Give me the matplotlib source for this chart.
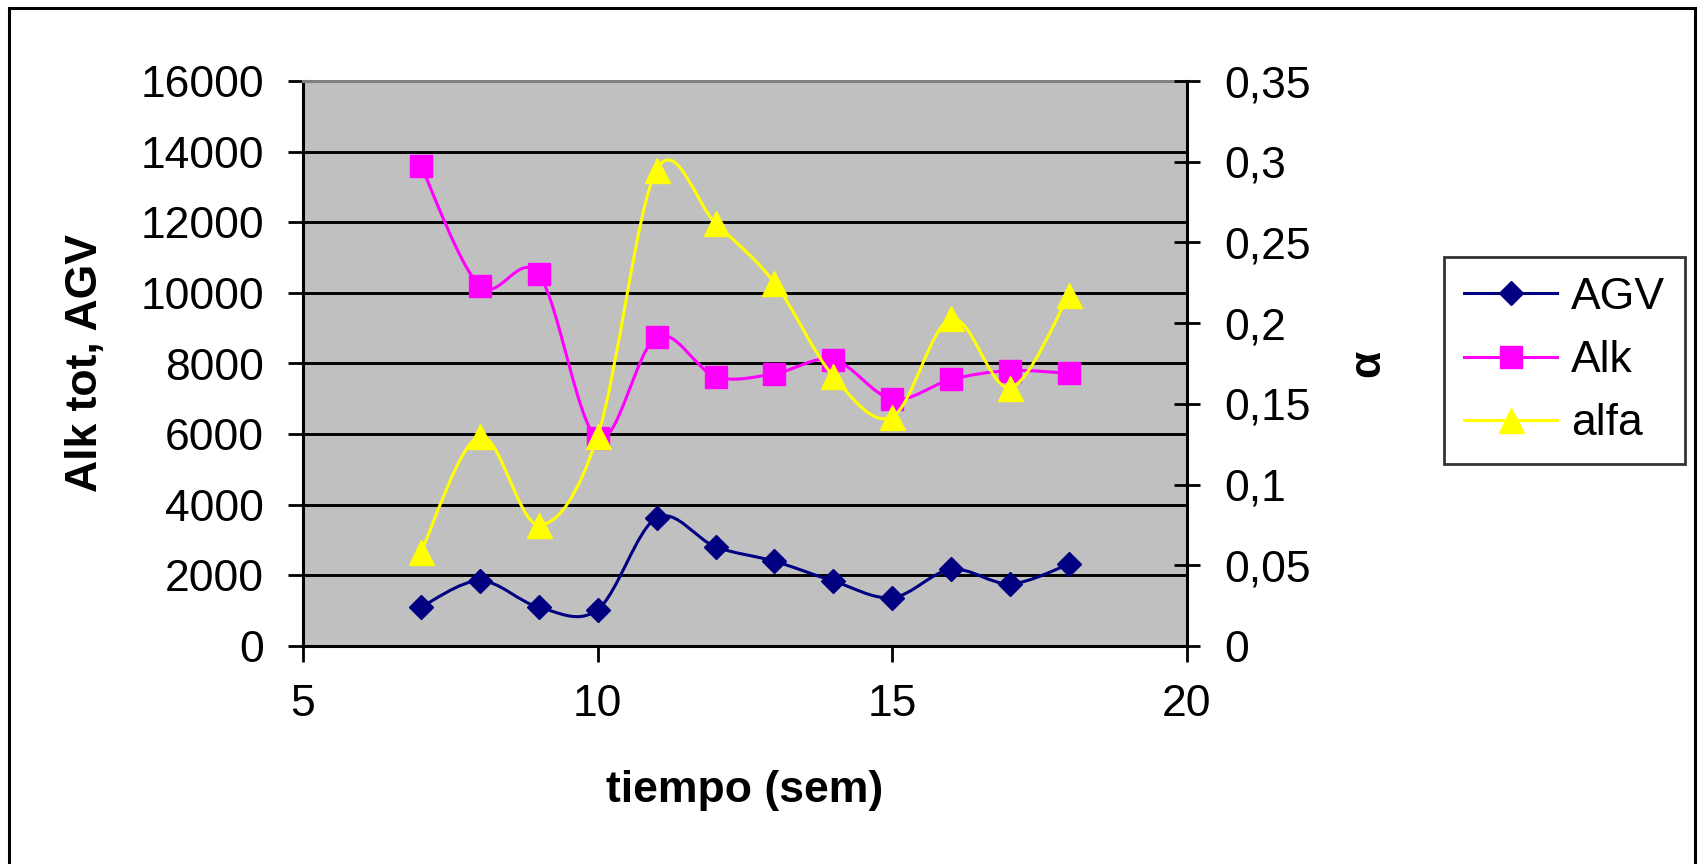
import matplotlib
matplotlib.use("Agg")
import matplotlib.pyplot as plt
import numpy as np
from matplotlib.path import Path
from matplotlib.patches import PathPatch, Rectangle
from matplotlib.lines import Line2D

plt.rcParams['font.family'] = ['Liberation Sans', 'DejaVu Sans']

# data
semanas = [7, 8, 9, 10, 11, 12, 13, 14, 15, 16, 17, 18]
agv = [1100, 1850, 1100, 1030, 3630, 2810, 2400, 1840, 1370, 2170, 1760, 2320]
alk = [13600, 10200, 10530, 5880, 8750, 7630, 7710, 8110, 6990, 7550, 7800, 7720]
alfa = [0.058, 0.130, 0.075, 0.130, 0.295, 0.262, 0.225, 0.167, 0.142, 0.203, 0.160, 0.2175]

y_left_ticks = [0, 2000, 4000, 6000, 8000, 10000, 12000, 14000, 16000]
y_right_ticks = [0, 0.05, 0.1, 0.15, 0.2, 0.25, 0.3, 0.35]
y_right_labels = ["0", "0,05", "0,1", "0,15", "0,2", "0,25", "0,3", "0,35"]
x_ticks = [5, 10, 15, 20]


def smooth_path(x, y):
    # excel-like smoothed line: cubic bezier through every point
    p = np.column_stack([x, y]).astype(float)
    pts = np.vstack([p[0], p, p[-1]])
    verts = [p[0]]
    codes = [Path.MOVETO]
    for i in range(1, len(pts) - 2):
        c1 = pts[i] + (pts[i + 1] - pts[i - 1]) / 6
        c2 = pts[i + 1] - (pts[i + 2] - pts[i]) / 6
        verts += [c1, c2, pts[i + 1]]
        codes += [Path.CURVE4] * 3
    return Path(verts, codes)


fig = plt.figure(figsize=(17.03, 8.64), dpi=100)
ax = fig.add_axes([303 / 1703, 1 - 646 / 864, 884 / 1703, 565 / 864])
ax2 = ax.twinx()

ax.set_facecolor("#C0C0C0")
ax.set_xlim(5, 20)
ax.set_ylim(0, 16000)
ax2.set_ylim(0, 0.35)

for v in y_left_ticks[1:-1]:
    ax.axhline(v, color="black", lw=2.1, zorder=1)

series = [
    (ax, agv, "#000080", "D", 12, "AGV"),
    (ax, alk, "#FF00FF", "s", 16, "Alk"),
    (ax2, alfa, "#FFFF00", "^", 18, "alfa"),
]
handles = []
for a, vals, col, mk, ms, name in series:
    a.add_patch(PathPatch(smooth_path(semanas, vals), fill=False, edgecolor=col, lw=2.2, zorder=3))
    a.plot(semanas, vals, linestyle="none", marker=mk, ms=ms, color=col, mec=col, zorder=4)
    handles.append(Line2D([], [], color=col, lw=2.2, marker=mk, ms=ms, mec=col, label=name))

ax.set_xticks(x_ticks)
ax.set_yticks(y_left_ticks)
ax.set_yticklabels([str(v) for v in y_left_ticks])
ax2.set_yticks(y_right_ticks)
ax2.set_yticklabels(y_right_labels)

ax.tick_params(axis="y", direction="out", length=11, width=2, labelsize=32, pad=17)
ax.tick_params(axis="x", direction="out", length=11.5, width=2, labelsize=32, pad=16)
ax2.tick_params(axis="y", direction="inout", length=19, width=2, labelsize=32, pad=17)

for s in ["left", "bottom"]:
    ax.spines[s].set_linewidth(2.2)
    ax.spines[s].set_color("black")
ax.spines["top"].set_color("#808080")
ax.spines["top"].set_linewidth(2.2)
ax.spines["right"].set_visible(False)
ax2.spines["right"].set_linewidth(2.2)
ax2.spines["right"].set_color("black")
for s in ["left", "bottom", "top"]:
    ax2.spines[s].set_visible(False)

ax.set_xlabel("tiempo (sem)", fontsize=32, fontweight="bold", va="baseline")
ax.xaxis.set_label_coords(0.5, -0.276)
ax.set_ylabel("Alk tot, AGV", fontsize=32, fontweight="bold", va="center")
ax.yaxis.set_label_coords(-0.246, 0.5)
ax2.set_ylabel("α", fontsize=32, fontweight="bold", rotation=90, va="center")
ax2.yaxis.set_label_coords(1.205, 0.5)

leg = fig.legend(handles=handles, loc="upper left", bbox_to_anchor=(1444 / 1703, 1 - 257 / 864),
                 bbox_transform=fig.transFigure, borderaxespad=0, fontsize=32, frameon=True,
                 fancybox=False, edgecolor="black", handlelength=2.1, handletextpad=0.3,
                 labelspacing=0.5, borderpad=0.45)
leg.get_frame().set_linewidth(2)

fig.patches.append(Rectangle((9 / 1703, -0.1), (1695 - 9) / 1703, 1 - 8 / 864 + 0.1,
                             transform=fig.transFigure, fill=False, ec="black", lw=2.2))

fig.savefig("out.png", dpi=100)
